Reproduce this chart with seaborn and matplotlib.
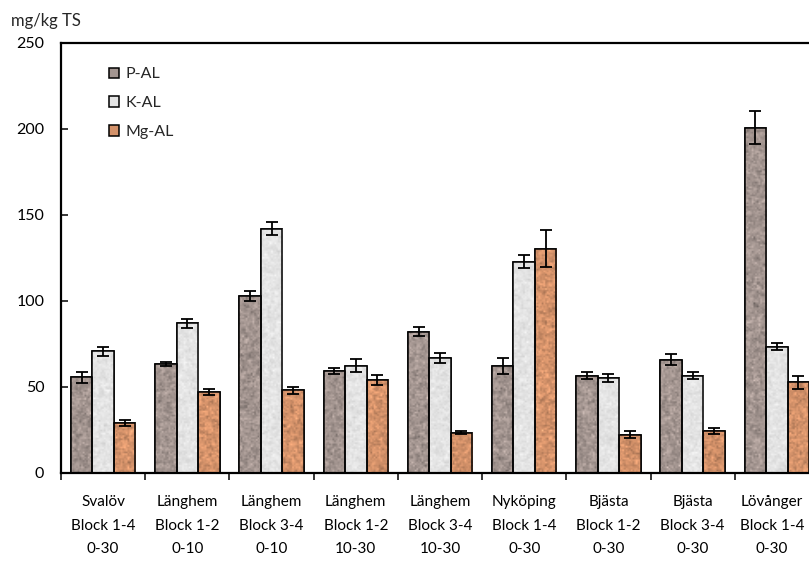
import matplotlib
matplotlib.use("Agg")
import matplotlib.pyplot as plt
from matplotlib.patches import Rectangle
import seaborn as sns
import pandas as pd
import numpy as np

sites = ["Svalöv", "Länghem", "Länghem", "Länghem", "Länghem", "Nyköping", "Bjästa", "Bjästa", "Lövånger"]
blocks = ["Block 1-4", "Block 1-2", "Block 3-4", "Block 1-2", "Block 3-4", "Block 1-4", "Block 1-2", "Block 3-4", "Block 1-4"]
depths = ["0-30", "0-10", "0-10", "10-30", "10-30", "0-30", "0-30", "0-30", "0-30"]

series = ["P-AL", "K-AL", "Mg-AL"]
p_al = [55.6, 63.4, 103.1, 59.5, 82.2, 62.4, 56.6, 65.9, 200.8]
k_al = [70.9, 87.0, 142.0, 62.4, 67.0, 122.9, 55.4, 56.6, 73.5]
mg_al = [29.1, 47.1, 48.0, 53.9, 23.4, 130.4, 22.3, 24.4, 52.7]
p_err = [3.0, 1.0, 3.0, 1.7, 2.8, 4.6, 2.0, 3.0, 9.5]
k_err = [2.6, 2.7, 3.8, 3.7, 3.0, 3.8, 2.3, 2.0, 2.0]
mg_err = [2.0, 2.0, 2.0, 2.9, 0.8, 10.7, 2.0, 1.7, 3.8]

colors = ["#a39590", "#e4e4e4", "#d4926a"]
# speckle strength for the stone-like fill of each series
grain = [0.13, 0.04, 0.12]

labels = [f"{s}\n{b}\n{d}" for s, b, d in zip(sites, blocks, depths)]
values = {"P-AL": p_al, "K-AL": k_al, "Mg-AL": mg_al}
errors = {"P-AL": p_err, "K-AL": k_err, "Mg-AL": mg_err}

rows = []
for name in series:
    for lab, v, e in zip(labels, values[name], errors[name]):
        rows.append({"plats": lab, "serie": name, "varde": v, "fel": e})
df = pd.DataFrame(rows)

sns.set_theme(style="white")
plt.rcParams["font.family"] = ["Lato", "DejaVu Sans"]
FS = 11.5

W, H = 809, 563
fig = plt.figure(figsize=(W / 100, H / 100), dpi=100)
ax = fig.add_axes([61 / W, (H - 473) / H, 758 / W, 430 / H])

sns.barplot(data=df, x="plats", y="varde", hue="serie", hue_order=series,
            palette=colors, errorbar=None, width=0.765, saturation=1,
            edgecolor="black", linewidth=1.1, ax=ax, legend=True)


def stone_texture(base, amount, shape, rng):
    """Speckled fill resembling a granite texture."""
    n = rng.normal(size=(shape[0] + 2, shape[1] + 2))
    sm = (n[1:-1, 1:-1] * 2 + n[:-2, 1:-1] + n[2:, 1:-1] + n[1:-1, :-2] + n[1:-1, 2:]) / 6
    fine = rng.normal(size=shape) * 0.5
    lum = (sm + fine) * amount
    rgb = np.array(matplotlib.colors.to_rgb(base))
    img = rgb[None, None, :] * (1 + lum[..., None])
    return np.clip(img, 0, 1)


rng = np.random.default_rng(7)
for cont, name, col, amt in zip(ax.containers, series, colors, grain):
    for b in cont:
        x0, w, h = b.get_x(), b.get_width(), b.get_height()
        px_h = max(int(h * 1.72 / 1.6), 2)
        px_w = max(int(w * 84.2 / 1.6), 2)
        tex = stone_texture(col, amt, (px_h, px_w), rng)
        im = ax.imshow(tex, extent=(x0, x0 + w, 0, h), origin="lower",
                       interpolation="bilinear", aspect="auto", zorder=b.get_zorder() + 0.1)
        im.set_clip_path(b)
        ax.add_patch(Rectangle((x0, 0), w, h, fill=False, edgecolor="black",
                               linewidth=1.1, zorder=b.get_zorder() + 0.2))

for cont, name in zip(ax.containers, series):
    xs = [b.get_x() + b.get_width() / 2 for b in cont]
    ys = [b.get_height() for b in cont]
    ax.errorbar(xs, ys, yerr=errors[name], fmt="none", ecolor="black",
                elinewidth=1.3, capsize=4.5, capthick=1.3, zorder=5)

n = len(labels)
ax.set_xlim(-0.5, n - 0.5)
ax.set_ylim(0, 250)
ax.set_yticks([0, 50, 100, 150, 200, 250])
ax.tick_params(axis="y", direction="in", length=5, width=1.1, colors="black",
               labelsize=FS, pad=12, left=True)
ax.set_xticks(np.arange(n + 1) - 0.5)
ax.set_xticklabels([])
ax.tick_params(axis="x", which="major", direction="out", length=5, width=1.1,
               colors="black", bottom=True)
# category labels sit under each group; the last one is kept inside the canvas
label_pos = np.arange(n, dtype=float)
label_pos[-1] -= 0.06
ax.set_xticks(label_pos, minor=True)
ax.set_xticklabels(labels, minor=True, fontsize=11, linespacing=1.85)
ax.tick_params(axis="x", which="minor", length=0, pad=16, labelcolor="black")
ax.set_xlabel("")
ax.set_ylabel("")
for side in ["left", "bottom", "top", "right"]:
    ax.spines[side].set_visible(True)
    ax.spines[side].set_color("black")
    ax.spines[side].set_linewidth(1.6)
    ax.spines[side].set_zorder(6)

leg = ax.legend(loc="upper left", bbox_to_anchor=(0.055, 0.958), frameon=False,
                fontsize=FS, handlelength=0.65, handleheight=0.65,
                handletextpad=0.4, labelspacing=0.92, borderaxespad=0)
for h in leg.legend_handles:
    h.set_edgecolor("black")
    h.set_linewidth(1.1)

fig.text(11 / W, 1 - 21 / H, "mg/kg TS", fontsize=12, va="center", ha="left")

fig.savefig("out.png", dpi=100)
